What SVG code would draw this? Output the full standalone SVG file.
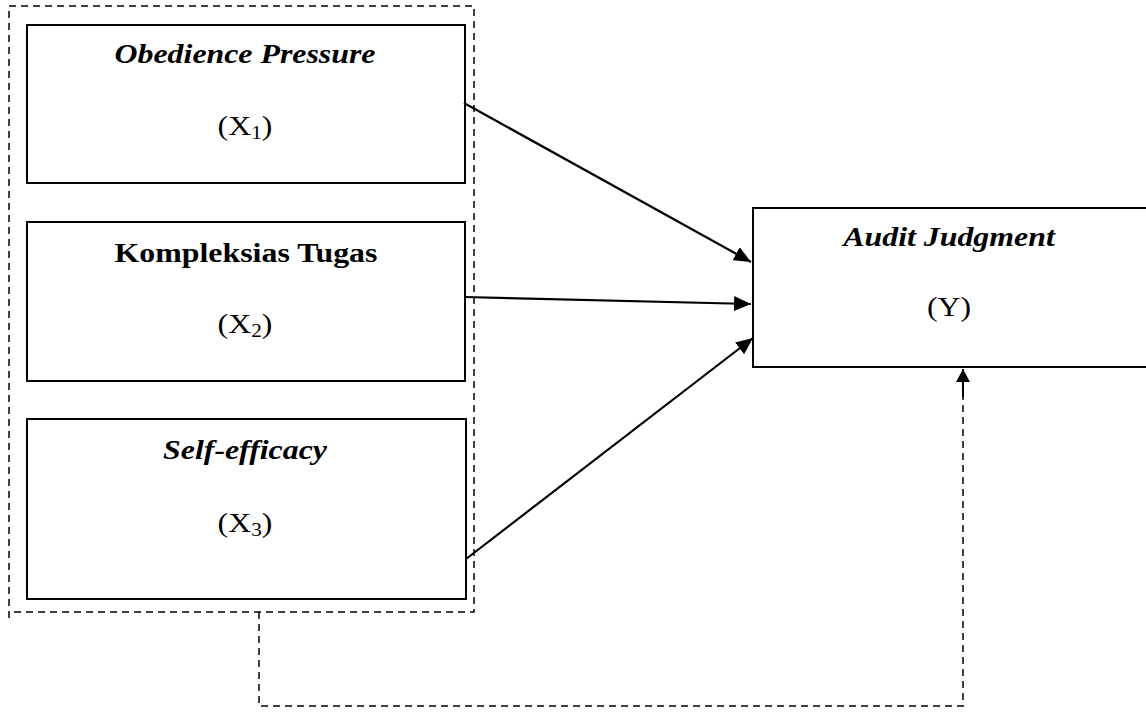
<svg xmlns="http://www.w3.org/2000/svg" width="1146" height="713" viewBox="0 0 1146 713">
<style>
.box{fill:#fff;stroke:#000;stroke-width:2}
.t{font-family:"Liberation Serif","Times New Roman",serif;font-size:27px;fill:#000;text-anchor:middle}
.bi{font-weight:bold;font-style:italic}
.b{font-weight:bold}
.sub{font-size:18px}
.arr{stroke:#000;stroke-width:2.2;fill:none}
.dash{stroke:#000;stroke-width:1.5;fill:none;stroke-dasharray:7,5}
</style>
<defs>
<marker id="ah" markerWidth="17" markerHeight="15" refX="17" refY="7.5" orient="auto" markerUnits="userSpaceOnUse">
<path d="M0,0 L17,7.5 L0,15 Z" fill="#000"/>
</marker>
<marker id="ah2" markerWidth="13" markerHeight="14" refX="13" refY="7" orient="auto" markerUnits="userSpaceOnUse">
<path d="M0,0 L13,7 L0,14 Z" fill="#000"/>
</marker>
</defs>
<g id="group-frame">
<path d="M9,618 L9,6 L474,6 L474,612 L9,612" class="dash"/>
</g>
<g id="x1">
<rect x="27" y="25" width="438" height="158" class="box"/>
<text transform="translate(245 0) scale(1.18 1)" x="0" y="63" class="t bi">Obedience Pressure</text>
<text transform="translate(245 0) scale(1.18 1)" x="0" y="135" class="t">(X<tspan class="sub" dy="4">1</tspan><tspan dy="-4">)</tspan></text>
</g>
<g id="x2">
<rect x="27" y="222" width="438" height="159" class="box"/>
<text transform="translate(246 0) scale(1.18 1)" x="0" y="262" class="t b">Kompleksias Tugas</text>
<text transform="translate(245 0) scale(1.18 1)" x="0" y="333" class="t">(X<tspan class="sub" dy="4">2</tspan><tspan dy="-4">)</tspan></text>
</g>
<g id="x3">
<rect x="27" y="419" width="439" height="180" class="box"/>
<text transform="translate(245 0) scale(1.18 1)" x="0" y="459" class="t bi">Self-efficacy</text>
<text transform="translate(245 0) scale(1.18 1)" x="0" y="532" class="t">(X<tspan class="sub" dy="4">3</tspan><tspan dy="-4">)</tspan></text>
</g>
<g id="y">
<rect x="753" y="208" width="394" height="159" class="box"/>
<text transform="translate(949 0) scale(1.18 1)" x="0" y="246" class="t bi">Audit Judgment</text>
<text transform="translate(949 0) scale(1.18 1)" x="0" y="316" class="t">(Y)</text>
</g>
<g id="connectors">
<line x1="464" y1="103" x2="751" y2="262" class="arr" marker-end="url(#ah)"/>
<line x1="464" y1="297" x2="751" y2="304" class="arr" marker-end="url(#ah)"/>
<line x1="466" y1="559" x2="753" y2="338" class="arr" marker-end="url(#ah)"/>
<polyline points="259,612 259,706 963,706 963,397" class="dash" stroke-dasharray="8,4"/>
<line x1="963" y1="397" x2="963" y2="369" stroke="#000" stroke-width="2" marker-end="url(#ah2)"/>
</g>
</svg>
